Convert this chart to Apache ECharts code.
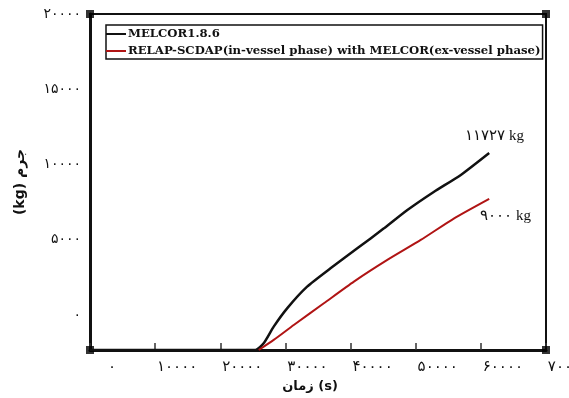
<!DOCTYPE html>
<html>
<head>
  <meta charset="UTF-8">
  <title>Mass vs time</title>
  <style>
    html, body { margin: 0; padding: 0; background: #fff; }
    #chart { width: 569px; height: 398px; }
  </style>
  <script src="https://cdn.jsdelivr.net/npm/echarts@6/dist/echarts.min.js"></script>
</head>
<body>
  <div id="chart"></div>
  <script>
    // MELCOR1.8.6 (black)
    var timeMelcor = [0, 15400, 25400, 26660, 28200, 30260, 33330, 36920, 41030, 45120, 48720, 52820, 56920, 61280];
    var massMelcor = [0, 0, 0, 400, 1390, 2480, 3770, 4860, 6050, 7240, 8330, 9420, 10420, 11727];
    // RELAP-SCDAP + MELCOR (red)
    var timeRelap = [25900, 28200, 31280, 35900, 40510, 45640, 50770, 55900, 61280];
    var massRelap = [0, 600, 1490, 2780, 4070, 5360, 6550, 7840, 9000];
    var yLabelValues = [0, 5000, 10000, 15000, 20000];
    var seriesNames = ['MELCOR1.8.6', 'RELAP-SCDAP(in-vessel phase) with MELCOR(ex-vessel phase)'];

    function fa(n) {
      return String(n).replace(/\d/g, function (d) { return '۰۱۲۳۴۵۶۷۸۹'[d]; });
    }
    function pairs(xs, ys) {
      return xs.map(function (x, i) { return [x, ys[i]]; });
    }

    var chart = echarts.init(document.getElementById('chart'));
    var option = {
      animation: false,
      grid: {
        left: 90, right: 23, top: 14, bottom: 48,
        outerBoundsMode: 'none',
        containLabel: false,
        show: true, borderColor: '#111', borderWidth: 2
      },
      legend: {
        left: 106, top: 25,
        orient: 'vertical',
        padding: [3, 2, 2, 0],
        itemGap: 5,
        itemWidth: 20,
        itemHeight: 2,
        icon: 'rect',
        borderColor: '#111',
        borderWidth: 1.5,
        textStyle: { fontFamily: 'DejaVu Serif', fontWeight: 'bold', fontSize: 11.7, color: '#111', padding: [0, 0, 0, -3] },
        data: seriesNames
      },
      xAxis: {
        type: 'value',
        min: 0, max: 70000, interval: 10000,
        name: 'زمان (s)',
        nameLocation: 'middle',
        nameGap: 27,
        nameTextStyle: { fontFamily: 'DejaVu Sans', fontWeight: 'bold', fontSize: 13, color: '#111', padding: [0, 16, 0, 0] },
        axisLine: { lineStyle: { color: '#111', width: 3 } },
        axisTick: { inside: true, length: 7, lineStyle: { color: '#333', width: 1.5 } },
        splitLine: { show: false },
        axisLabel: {
          color: '#111', fontSize: 15, fontFamily: 'DejaVu Sans', margin: 10,
          padding: [0, 0, 0, 44],
          hideOverlap: false,
          formatter: function (v) { return fa(v); }
        }
      },
      yAxis: [{
        type: 'value',
        min: 0, max: 20000,
        name: '(kg) جرم',
        nameLocation: 'middle',
        nameGap: 63,
        nameTextStyle: { fontFamily: 'DejaVu Sans', fontWeight: 'bold', fontSize: 14, color: '#111' },
        axisLine: { show: true, lineStyle: { color: '#111', width: 3 } },
        axisTick: { show: false },
        axisLabel: { show: false },
        splitLine: { show: false }
      }, {
        // labels in the original are spaced on a slightly shifted scale
        type: 'value',
        position: 'left',
        min: -2326, max: 20000,
        axisLine: { show: false },
        axisTick: { show: false },
        splitLine: { show: false },
        axisLabel: {
          customValues: yLabelValues,
          color: '#111', fontSize: 14, fontFamily: 'DejaVu Sans', margin: 9,
          formatter: function (v) { return fa(v); }
        }
      }],
      series: [{
        name: seriesNames[0],
        type: 'line',
        symbol: 'none',
        smooth: 0.2,
        color: '#111',
        lineStyle: { width: 2.5 },
        data: pairs(timeMelcor, massMelcor),
        endLabel: {
          show: true, distance: 0, offset: [-24, -17],
          fontFamily: 'Liberation Serif', fontSize: 15, color: '#111',
          formatter: function () { return fa(massMelcor[massMelcor.length - 1]) + ' kg'; }
        }
      }, {
        name: seriesNames[1],
        type: 'line',
        symbol: 'none',
        smooth: 0.2,
        color: '#b01414',
        lineStyle: { width: 2 },
        data: pairs(timeRelap, massRelap),
        endLabel: {
          show: true, distance: 0, offset: [-9, 17],
          fontFamily: 'Liberation Serif', fontSize: 15, color: '#111',
          formatter: function () { return fa(massRelap[massRelap.length - 1]) + ' kg'; }
        }
      }, {
        // corner markers of the frame
        type: 'scatter',
        symbol: 'rect',
        symbolSize: 8,
        clip: false,
        silent: true,
        color: '#000',
        data: [[0, 0], [70000, 0], [0, 20000], [70000, 20000]]
      }]
    };
    chart.setOption(option);
  </script>
</body>
</html>
